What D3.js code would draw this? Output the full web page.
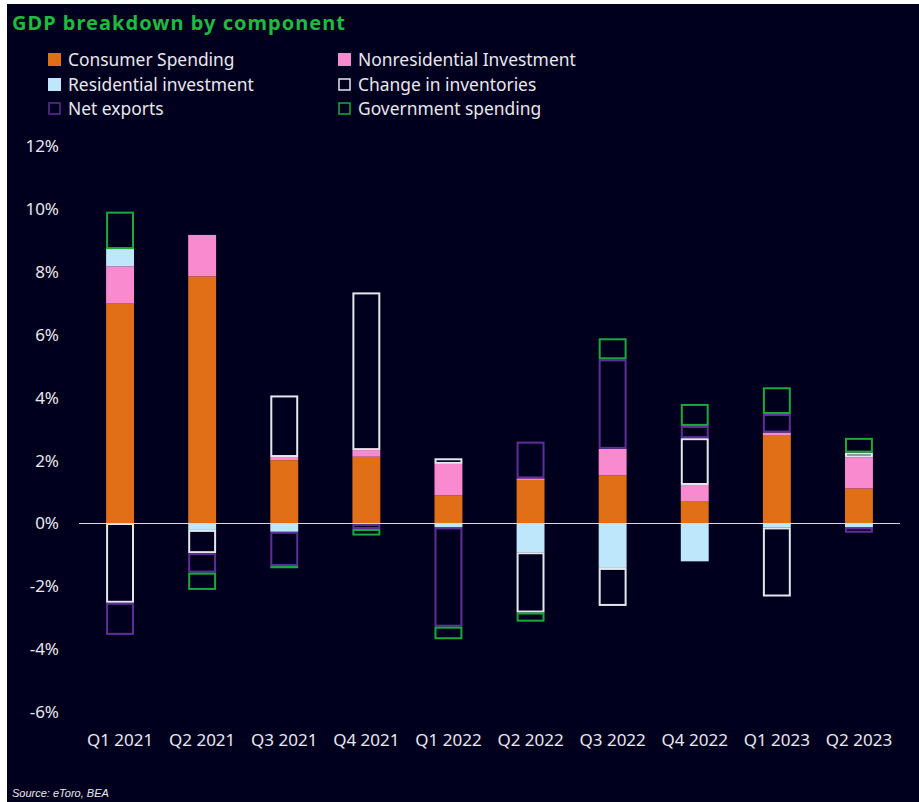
<!DOCTYPE html>
<html>
<head>
<meta charset="utf-8">
<script src="https://cdn.jsdelivr.net/npm/d3@7"></script>
<style>
  html, body { margin: 0; padding: 0; background: #fff; }
  svg { display: block; }
</style>
</head>
<body>
<script>
const quarters = ["Q1 2021","Q2 2021","Q3 2021","Q4 2021","Q1 2022","Q2 2022","Q3 2022","Q4 2022","Q1 2023","Q2 2023"];

const consumer     = [7.0, 7.85, 2.0, 2.11, 0.88, 1.37, 1.52, 0.68, 2.78, 1.10];
const nonres       = [1.17, 1.32, 0.1, 0.21, 1.0, 0.05, 0.84, 0.53, 0.1, 0.99];
const residential  = [0.55, -0.22, -0.28, -0.03, -0.14, -0.93, -1.43, -1.22, -0.14, -0.14];
const inventories  = [-2.54, -0.74, 1.96, 5.02, 0.18, -1.92, -1.21, 1.49, -2.2, 0.15];
const netExports   = [-1.02, -0.62, -1.09, -0.16, -3.16, 1.17, 2.85, 0.39, 0.59, -0.17];
const government   = [1.19, -0.55, -0.06, -0.21, -0.4, -0.29, 0.67, 0.70, 0.85, 0.47];

const seriesNames = ["Consumer Spending","Nonresidential Investment","Residential investment","Change in inventories","Net exports","Government spending"];
const seriesData = [consumer, nonres, residential, inventories, netExports, government];
const yTicks = [-6,-4,-2,0,2,4,6,8,10,12];

const styles = {
  "Consumer Spending":         {fill: "#E06F17", stroke: "#E06F17", sw: 0},
  "Nonresidential Investment": {fill: "#F98ACF", stroke: "#F98ACF", sw: 0},
  "Residential investment":    {fill: "#BFE7FB", stroke: "#BFE7FB", sw: 0},
  "Change in inventories":     {fill: "none", stroke: "#E6E6EE", sw: 2},
  "Net exports":               {fill: "none", stroke: "#5E2F98", sw: 2},
  "Government spending":       {fill: "none", stroke: "#1AAA3C", sw: 2}
};

const W = 919, H = 802;
const bg = "#00001E";
const font = "'Noto Sans', sans-serif";

// rows for the stack
const rows = quarters.map((q, i) => {
  const r = {q: q};
  seriesNames.forEach((s, j) => r[s] = seriesData[j][i]);
  return r;
});

const svg = d3.select("body").append("svg").attr("width", W).attr("height", H);

svg.append("rect").attr("width", W).attr("height", H).attr("fill", "#fff");
svg.append("rect").attr("x", 7).attr("y", 4).attr("width", W - 7).attr("height", H - 4).attr("fill", bg);

svg.append("text")
  .attr("x", 12).attr("y", 30)
  .attr("fill", "#1DBB3E")
  .attr("font-family", font)
  .attr("font-weight", "bold")
  .attr("font-size", 20)
  .attr("textLength", 333)
  .text("GDP breakdown by component");

// legend
const legPos = [[48,60],[338,60],[48,85],[338,85],[48,109],[338,109]];
seriesNames.forEach((s, i) => {
  const g = svg.append("g").attr("transform", `translate(${legPos[i][0]},${legPos[i][1]})`);
  const st = styles[s];
  if (st.fill === "none") {
    g.append("rect").attr("x", 1).attr("y", -6).attr("width", 11).attr("height", 11)
      .attr("fill", "none").attr("stroke", st.stroke).attr("stroke-width", 1.5);
  } else {
    g.append("rect").attr("x", 0).attr("y", -7).attr("width", 13).attr("height", 13).attr("fill", st.fill);
  }
  g.append("text").attr("x", 20).attr("y", 6)
    .attr("fill", "#E8E8EE").attr("font-family", font).attr("font-size", 17.4)
    .text(s);
});

const x = d3.scaleBand().domain(quarters).range([79, 900]).paddingInner(0.66).paddingOuter(0.33);
const y = d3.scaleLinear().domain([-6, 12]).range([711.5, 146]);

// y axis labels
const yAxis = svg.append("g").attr("transform", "translate(59,0)")
  .call(d3.axisLeft(y).tickValues(yTicks).tickSize(0).tickPadding(0).tickFormat(d => d + "%"));
yAxis.select(".domain").remove();
yAxis.selectAll("text").attr("fill", "#E8E8EE").attr("font-family", font).attr("font-size", 17).attr("dy", "0.35em");

// x axis labels
const xAxis = svg.append("g").attr("transform", "translate(0,734)")
  .call(d3.axisBottom(x).tickSize(0).tickPadding(0));
xAxis.select(".domain").remove();
xAxis.selectAll("text").attr("fill", "#E8E8EE").attr("font-family", font).attr("font-size", 17).attr("dy", "0.71em");

const stack = d3.stack().keys(seriesNames).offset(d3.stackOffsetDiverging);
const stacked = stack(rows);

stacked.forEach(layer => {
  const st = styles[layer.key];
  const inset = st.sw / 2;
  svg.append("g").selectAll("rect")
    .data(layer)
    .join("rect")
    .attr("x", d => x(d.data.q) + inset)
    .attr("width", x.bandwidth() - 2 * inset)
    .attr("y", d => y(Math.max(d[0], d[1])) + inset)
    .attr("height", d => Math.max(0.2, Math.abs(y(d[0]) - y(d[1])) - 2 * inset))
    .attr("fill", st.fill)
    .attr("stroke", st.stroke)
    .attr("stroke-width", st.sw);
});

// zero line
svg.append("line")
  .attr("x1", 79).attr("x2", 900)
  .attr("y1", y(0) + 0.5).attr("y2", y(0) + 0.5)
  .attr("stroke", "#D8D8E0").attr("stroke-width", 1);

svg.append("text")
  .attr("x", 12).attr("y", 797)
  .attr("fill", "#E8E8EE")
  .attr("font-family", "'Liberation Sans Narrow', 'Liberation Sans', sans-serif")
  .attr("font-style", "italic")
  .attr("font-size", 11)
  .text("Source: eToro, BEA");
</script>
</body>
</html>
